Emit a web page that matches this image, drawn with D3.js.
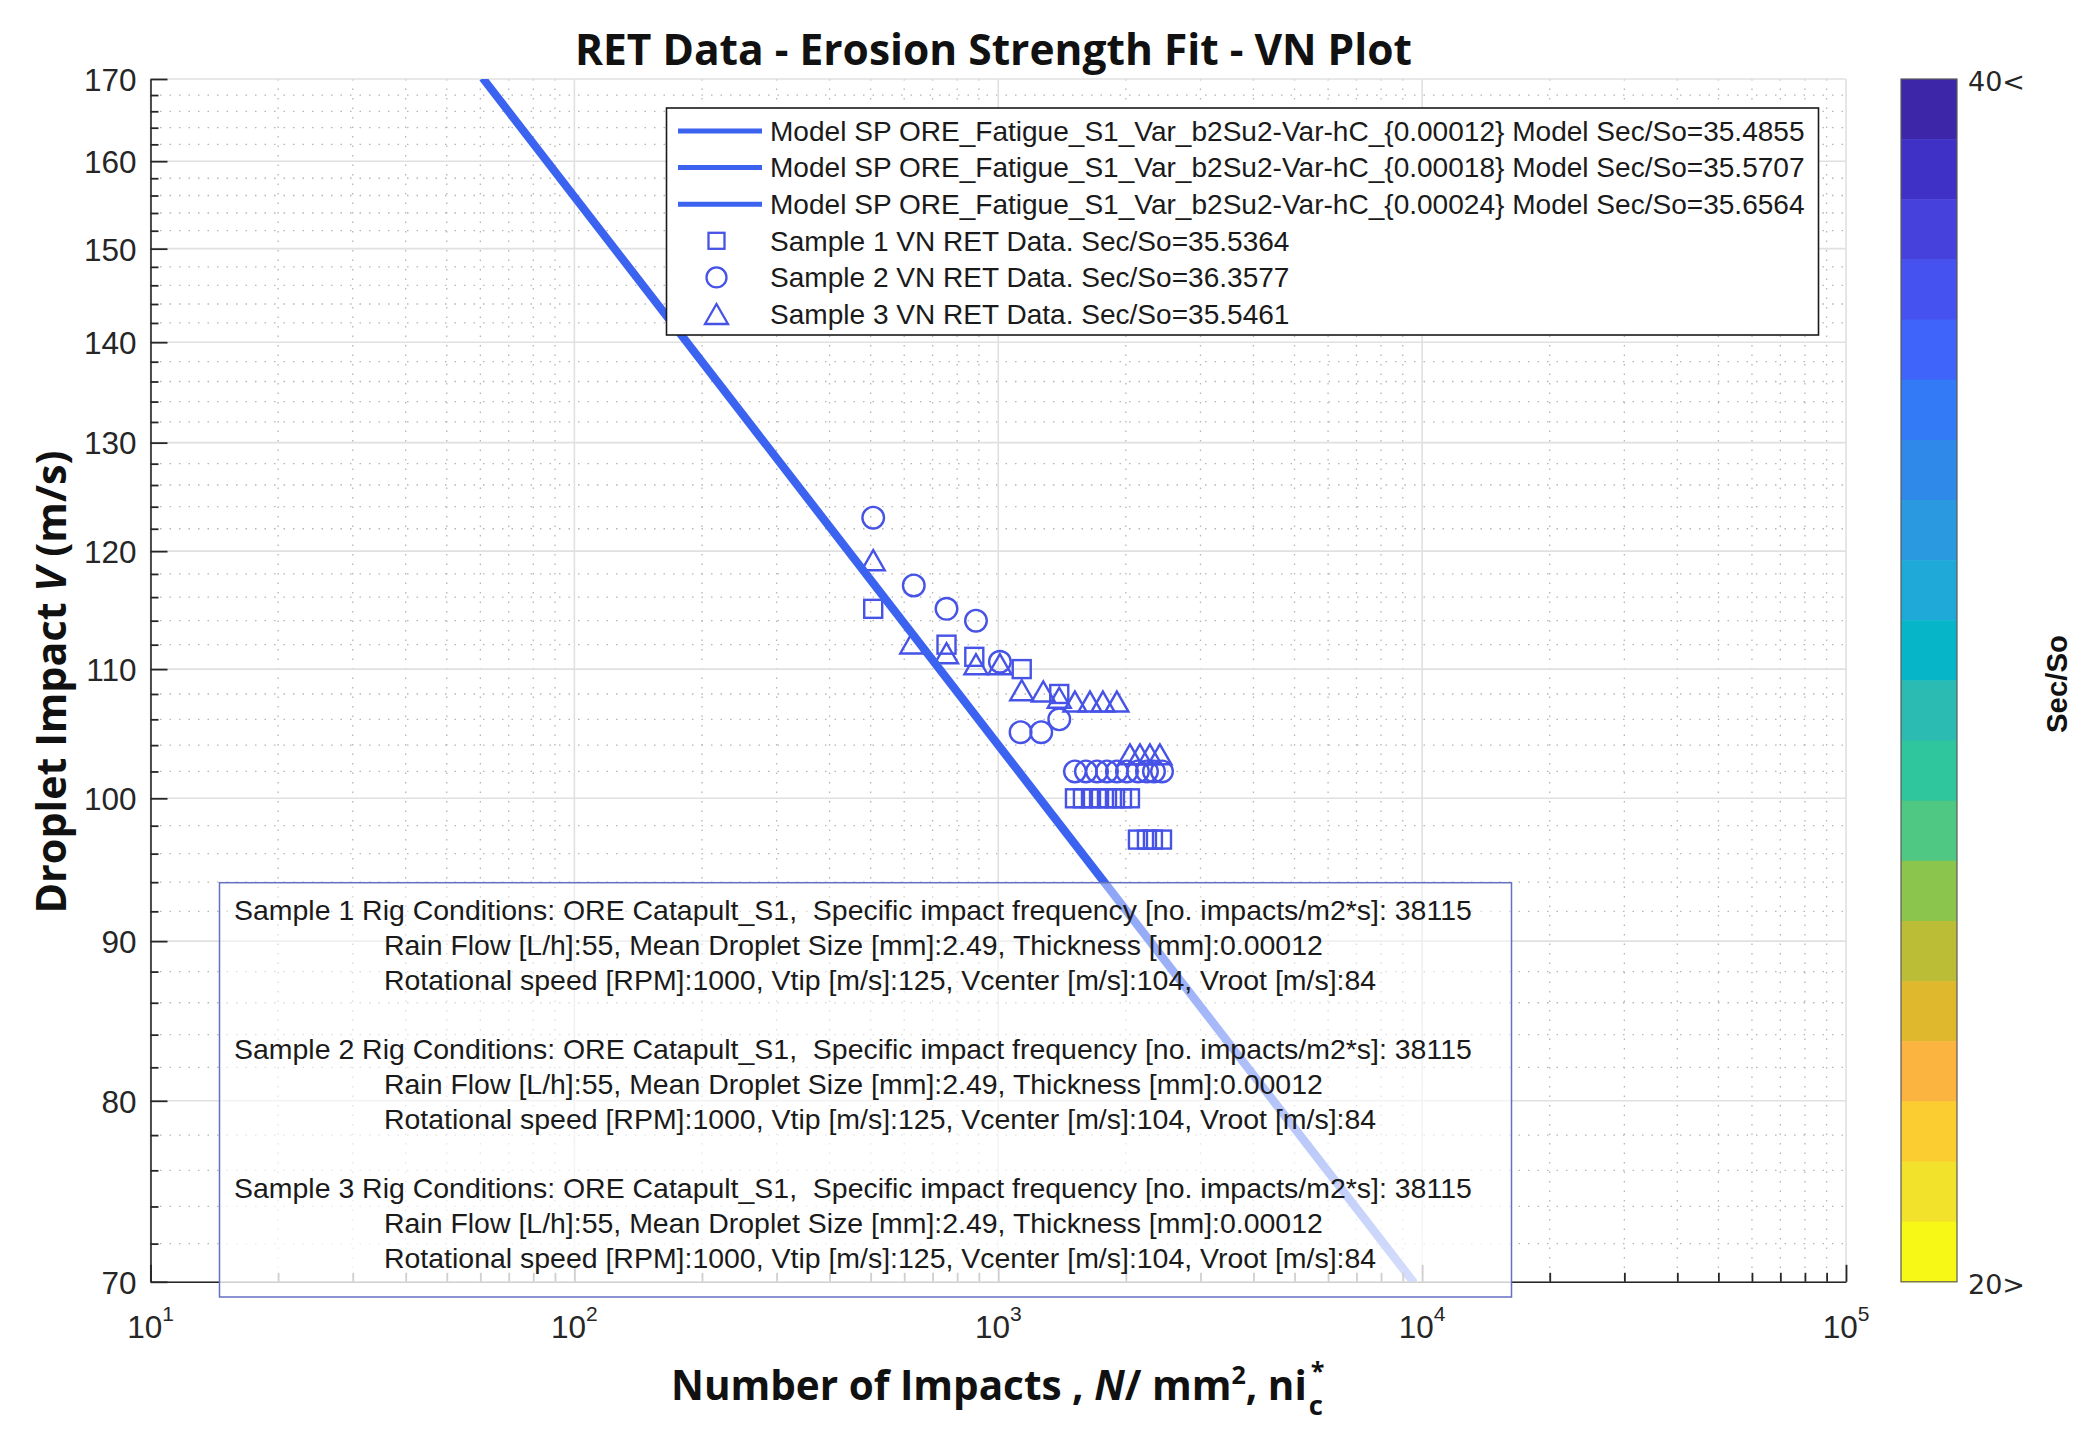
<!DOCTYPE html>
<html><head><meta charset="utf-8">
<script src="https://cdnjs.cloudflare.com/ajax/libs/d3/7.8.5/d3.min.js"></script>
<style>html,body{margin:0;padding:0;background:#fff}svg{display:block}</style>
</head><body>
<svg id="chart" width="2096" height="1440" xmlns="http://www.w3.org/2000/svg"></svg>
<script>
// ---------------- data ----------------
const xTickValues = [10, 100, 1000, 10000, 100000];
const xTickExponents = ["1", "2", "3", "4", "5"];
const xMinorValues = [20,30,40,50,60,70,80,90,200,300,400,500,600,700,800,900,
  2000,3000,4000,5000,6000,7000,8000,9000,20000,30000,40000,50000,60000,70000,80000,90000];
const yTickValues = [70,80,90,100,110,120,130,140,150,160,170];
const yMinorValues = [72,74,76,78,82,84,86,88,92,94,96,98,102,104,106,108,112,114,116,118,
  122,124,126,128,132,134,136,138,142,144,146,148,152,154,156,158,162,164,166,168];

const model1 = [[60.4,170],[9420,70]];
const model2 = [[61.0,170],[9530,70]];
const model3 = [[61.6,170],[9640,70]];

const sample1 = [[507,115],[755,112],[878,111],[1136,110],[1393,108],
  [1517,100],[1584,100],[1655,100],[1729,100],[1805,100],[1885,100],[1958,100],[2045,100],
  [2136,97],[2243,97],[2317,97],[2434,97]];
const sample2 = [[507,123],[632,117],[755,115],[886,114],[1009,110.6],[1129,105],[1263,105],[1393,106],
  [1517,102],[1610,102],[1710,102],[1805,102],[1905,102],[2012,102],[2136,102],[2243,102],[2330,102],[2434,102]];
const sample3 = [[507,119.2],[625,112.1],[755,111.3],[886,110.4],[1009,110.4],[1136,108.3],[1277,108.2],[1393,107.7],
  [1517,107.4],[1646,107.4],[1766,107.4],[1905,107.4],
  [2045,103.3],[2159,103.3],[2279,103.3],[2406,103.3]];

const legendLabels = [
  "Model SP ORE_Fatigue_S1_Var_b2Su2-Var-hC_{0.00012} Model Sec/So=35.4855",
  "Model SP ORE_Fatigue_S1_Var_b2Su2-Var-hC_{0.00018} Model Sec/So=35.5707",
  "Model SP ORE_Fatigue_S1_Var_b2Su2-Var-hC_{0.00024} Model Sec/So=35.6564",
  "Sample 1 VN RET Data. Sec/So=35.5364",
  "Sample 2 VN RET Data. Sec/So=36.3577",
  "Sample 3 VN RET Data. Sec/So=35.5461"
];
const legendKinds = ["line","line","line","square","circle","triangle"];

const infoLines = [
  "Sample 1 Rig Conditions: ORE Catapult_S1,  Specific impact frequency [no. impacts/m2*s]: 38115",
  "Rain Flow [L/h]:55, Mean Droplet Size [mm]:2.49, Thickness [mm]:0.00012",
  "Rotational speed [RPM]:1000, Vtip [m/s]:125, Vcenter [m/s]:104, Vroot [m/s]:84",
  "",
  "Sample 2 Rig Conditions: ORE Catapult_S1,  Specific impact frequency [no. impacts/m2*s]: 38115",
  "Rain Flow [L/h]:55, Mean Droplet Size [mm]:2.49, Thickness [mm]:0.00012",
  "Rotational speed [RPM]:1000, Vtip [m/s]:125, Vcenter [m/s]:104, Vroot [m/s]:84",
  "",
  "Sample 3 Rig Conditions: ORE Catapult_S1,  Specific impact frequency [no. impacts/m2*s]: 38115",
  "Rain Flow [L/h]:55, Mean Droplet Size [mm]:2.49, Thickness [mm]:0.00012",
  "Rotational speed [RPM]:1000, Vtip [m/s]:125, Vcenter [m/s]:104, Vroot [m/s]:84"
];

const colorbarLabels = ["40<", "20>"];
const colorbarColors = ["#3e26a8","#4031c6","#4641dc","#4652ef","#3f64f9","#337af6","#2e89e8","#2a99df",
  "#1fa9d8","#06b6c8","#2bbbb3","#2fc69e","#4fc883","#8bc54e","#bbbd37","#dfb82d","#fbb43f","#fbcd31","#f2e22b","#f8f817"];

const titleText = "RET Data - Erosion Strength Fit - VN Plot";

// ---------------- layout ----------------
const X0 = 150.5, X1 = 1846, Y0 = 79, Y1 = 1281.8;
const lineColor = "#3b63f0", markColor = "#4653e6", axisColor = "#262626";
const svg = d3.select("#chart");

const x = d3.scaleLog().domain([10, 100000]).range([X0, X1]);
const y = d3.scaleLog().domain([70, 170]).range([Y1, Y0]);

function fit(sel, target) {
  const w = sel.node().getComputedTextLength();
  const fs = parseFloat(sel.attr("font-size"));
  if (w > 0) sel.attr("font-size", (fs * target / w).toFixed(2));
  return parseFloat(sel.attr("font-size"));
}

const defs = svg.append("defs");
defs.append("clipPath").attr("id", "plotclip").append("rect")
  .attr("x", X0).attr("y", Y0).attr("width", X1 - X0).attr("height", Y1 - Y0);
const grad = defs.append("linearGradient").attr("id", "boxfade")
  .attr("x1", 0).attr("y1", 0).attr("x2", 0).attr("y2", 1);
grad.append("stop").attr("offset", 0).attr("stop-color", "#fff").attr("stop-opacity", 0.42);
grad.append("stop").attr("offset", 1).attr("stop-color", "#fff").attr("stop-opacity", 0.8);

// ---------------- grid ----------------
const grid = svg.append("g");
grid.selectAll(".xmin").data(xMinorValues).join("line")
  .attr("x1", d => x(d)).attr("x2", d => x(d)).attr("y1", Y0).attr("y2", Y1)
  .attr("stroke", "#b5b5b5").attr("stroke-width", 1.3).attr("stroke-dasharray", "1.5,8");
grid.selectAll(".ymin").data(yMinorValues).join("line")
  .attr("y1", d => y(d)).attr("y2", d => y(d)).attr("x1", X0).attr("x2", X1)
  .attr("stroke", "#b5b5b5").attr("stroke-width", 1.3).attr("stroke-dasharray", "1.5,8");
grid.selectAll(".xmaj").data(xTickValues).join("line")
  .attr("x1", d => x(d)).attr("x2", d => x(d)).attr("y1", Y0).attr("y2", Y1)
  .attr("stroke", "#e0e0e0").attr("stroke-width", 1.6);
grid.selectAll(".ymaj").data(yTickValues).join("line")
  .attr("y1", d => y(d)).attr("y2", d => y(d)).attr("x1", X0).attr("x2", X1)
  .attr("stroke", "#e0e0e0").attr("stroke-width", 1.6);

// ---------------- markers ----------------
const sq = 18, cr = 10.8, tw = 11.5, th = 10;
const marks = svg.append("g").attr("fill", "none").attr("stroke", markColor).attr("stroke-width", 2.4);
marks.selectAll(".s1").data(sample1).join("rect")
  .attr("x", d => x(d[0]) - sq / 2).attr("y", d => y(d[1]) - sq / 2).attr("width", sq).attr("height", sq);
marks.selectAll(".s2").data(sample2).join("circle")
  .attr("cx", d => x(d[0])).attr("cy", d => y(d[1])).attr("r", cr);
const triPath = `M0,${-th}L${tw},${th}L${-tw},${th}Z`;
marks.selectAll(".s3").data(sample3).join("path")
  .attr("transform", d => `translate(${x(d[0])},${y(d[1])})`).attr("d", triPath);

// ---------------- model lines ----------------
const line = d3.line().x(d => x(d[0])).y(d => y(d[1]));
const lines = svg.append("g").attr("clip-path", "url(#plotclip)");
[model1, model2, model3].forEach(m => {
  lines.append("path").attr("d", line(m)).attr("fill", "none")
    .attr("stroke", lineColor).attr("stroke-width", 5.2);
});

// ---------------- axes ----------------
const tickFont = "'Liberation Sans', Arial, Helvetica, sans-serif";
const gy = svg.append("g").attr("transform", `translate(${X0},0)`)
  .call(d3.axisLeft(y).tickValues(yTickValues).tickSize(-17).tickSizeOuter(0).tickPadding(14).tickFormat(d3.format("d")));
const gym = svg.append("g").attr("transform", `translate(${X0},0)`)
  .call(d3.axisLeft(y).tickValues(yMinorValues).tickSize(-8).tickSizeOuter(0).tickFormat(() => ""));
gym.select(".domain").remove();
gym.selectAll("text").remove();
const gx = svg.append("g").attr("transform", `translate(0,${Y1})`)
  .call(d3.axisBottom(x).tickValues(xTickValues).tickSize(-17).tickSizeOuter(0).tickFormat(() => ""));
gx.selectAll("text").remove();
const gxm = svg.append("g").attr("transform", `translate(0,${Y1})`)
  .call(d3.axisBottom(x).tickValues(xMinorValues).tickSize(-9).tickSizeOuter(0).tickFormat(() => ""));
gxm.select(".domain").remove();
gxm.selectAll("text").remove();
[gy, gym, gx, gxm].forEach(g => {
  g.select(".domain").attr("stroke", axisColor).attr("stroke-width", 1.6);
  g.selectAll(".tick line").attr("stroke", axisColor).attr("stroke-width", 1.8);
});
gy.selectAll("text").attr("font-family", tickFont).attr("font-size", 31.5).attr("fill", axisColor)
  .attr("dy", "0.36em");

const xl = svg.append("g");
xTickValues.forEach((v, i) => {
  const t = xl.append("text").attr("x", x(v)).attr("y", 1338).attr("text-anchor", "middle")
    .attr("font-family", tickFont).attr("font-size", 31.5).attr("fill", axisColor);
  t.append("tspan").text("10");
  t.append("tspan").attr("font-size", 21).attr("dy", -17).text(xTickExponents[i]);
});

// ---------------- legend ----------------
const legRowY = [131, 167.6, 204.2, 240.8, 277.4, 314];
const leg = svg.append("g");
leg.append("rect").attr("x", 666.5).attr("y", 108).attr("width", 1152).attr("height", 227)
  .attr("fill", "#fff").attr("stroke", "#1a1a1a").attr("stroke-width", 1.6);
legendKinds.forEach((k, i) => {
  const cy = legRowY[i];
  if (k === "line") {
    leg.append("line").attr("x1", 678).attr("x2", 762).attr("y1", cy).attr("y2", cy)
      .attr("stroke", lineColor).attr("stroke-width", 5);
  } else if (k === "square") {
    leg.append("rect").attr("x", 716.5 - 8).attr("y", cy - 8).attr("width", 16).attr("height", 16)
      .attr("fill", "none").attr("stroke", markColor).attr("stroke-width", 2.3);
  } else if (k === "circle") {
    leg.append("circle").attr("cx", 716.5).attr("cy", cy).attr("r", 10)
      .attr("fill", "none").attr("stroke", markColor).attr("stroke-width", 2.3);
  } else {
    leg.append("path").attr("transform", `translate(716.5,${cy})`).attr("d", triPath)
      .attr("fill", "none").attr("stroke", markColor).attr("stroke-width", 2.3);
  }
});
const legTexts = legendLabels.map((s, i) => leg.append("text").attr("x", 770).attr("y", legRowY[i])
  .attr("dy", "0.35em").attr("font-family", tickFont).attr("font-size", 26).attr("fill", "#1a1a1a").text(s));
const legFs = fit(legTexts[0], 1035);
legTexts.forEach(t => t.attr("font-size", legFs));

// ---------------- info text box ----------------
const box = svg.append("g");
box.append("rect").attr("x", 219.5).attr("y", 882.7).attr("width", 1292).attr("height", 414.3)
  .attr("fill", "url(#boxfade)").attr("stroke", "#6470c0").attr("stroke-width", 1.5);
const infoTexts = [];
infoLines.forEach((s, i) => {
  if (!s) return;
  const t = box.append("text").attr("x", s.startsWith("Sample") ? 234 : 384).attr("y", 920 + i * 34.8)
    .attr("font-family", tickFont).attr("font-size", 26).attr("fill", "#1a1a1a")
    .style("white-space", "pre").text(s);
  infoTexts.push(t);
});
const infoFs = fit(infoTexts[0], 1238);
infoTexts.forEach(t => t.attr("font-size", infoFs));

// ---------------- colorbar ----------------
const cbX = 1901, cbW = 56;
const cbBand = d3.scaleBand().domain(d3.range(colorbarColors.length)).range([Y0, Y1]);
const cb = svg.append("g");
cb.selectAll("rect.band").data(colorbarColors).join("rect")
  .attr("x", cbX).attr("y", (d, i) => cbBand(i)).attr("width", cbW).attr("height", cbBand.bandwidth() + 0.5)
  .attr("fill", d => d);
cb.append("rect").attr("x", cbX).attr("y", Y0).attr("width", cbW).attr("height", Y1 - Y0)
  .attr("fill", "none").attr("stroke", "#5a5a5a").attr("stroke-width", 1.2);
const cbFont = "'DejaVu Sans', Verdana, sans-serif";
cb.append("text").attr("x", 1968).attr("y", Y0 + 2).attr("dy", "0.36em").attr("font-family", cbFont)
  .attr("font-size", 27).attr("fill", axisColor).text(colorbarLabels[0]);
cb.append("text").attr("x", 1968).attr("y", Y1 + 2).attr("dy", "0.36em").attr("font-family", cbFont)
  .attr("font-size", 27).attr("fill", axisColor).text(colorbarLabels[1]);
const cbl = cb.append("text").attr("transform", "translate(2056,684) rotate(-90)").attr("text-anchor", "middle")
  .attr("dy", "0.36em").attr("font-family", tickFont).attr("font-weight", "bold").attr("font-size", 29)
  .attr("fill", "#111").text("Sec/So");
fit(cbl, 98);

// ---------------- titles ----------------
const boldFont = "'Open Sans', 'DejaVu Sans', sans-serif";
const title = svg.append("text").attr("x", 993.5).attr("y", 49.5).attr("dy", "0.36em")
  .attr("text-anchor", "middle").attr("font-family", boldFont).attr("font-weight", "bold")
  .attr("font-size", 36).attr("fill", "#111").text(titleText);
fit(title, 837);

const yl = svg.append("text").attr("transform", "translate(51,682) rotate(-90)").attr("text-anchor", "middle")
  .attr("dy", "0.36em").attr("font-family", boldFont).attr("font-weight", "bold").attr("font-size", 40)
  .attr("fill", "#111");
yl.append("tspan").text("Droplet Impact ");
yl.append("tspan").attr("font-style", "italic").text("V");
yl.append("tspan").style("white-space", "pre").text(" (m/s)");
fit(yl, 463);

const xlab = svg.append("text").attr("x", 671).attr("y", 1400).attr("font-family", boldFont)
  .attr("font-weight", "bold").attr("font-size", 40).attr("fill", "#111").style("white-space", "pre");
xlab.append("tspan").text("Number of Impacts , ");
xlab.append("tspan").attr("font-style", "italic").text("N");
xlab.append("tspan").text("/ mm");
xlab.append("tspan").attr("font-size", "0.62em").attr("dy", "-0.62em").text("2");
xlab.append("tspan").attr("dy", "0.385em").text(", ni");
const xfs = fit(xlab, 636);
const bb = xlab.node().getBBox();
const xr = bb.x + bb.width;
svg.append("text").attr("x", xr + 2).attr("y", 1400 + xfs * 0.36).attr("font-family", boldFont)
  .attr("font-weight", "bold").attr("font-size", xfs * 0.68).attr("fill", "#111").text("c");
svg.append("text").attr("x", xr + 4).attr("y", 1400 - xfs * 0.5).attr("font-family", boldFont)
  .attr("font-weight", "bold").attr("font-size", xfs * 0.62).attr("fill", "#111").text("*");
</script>
</body></html>
